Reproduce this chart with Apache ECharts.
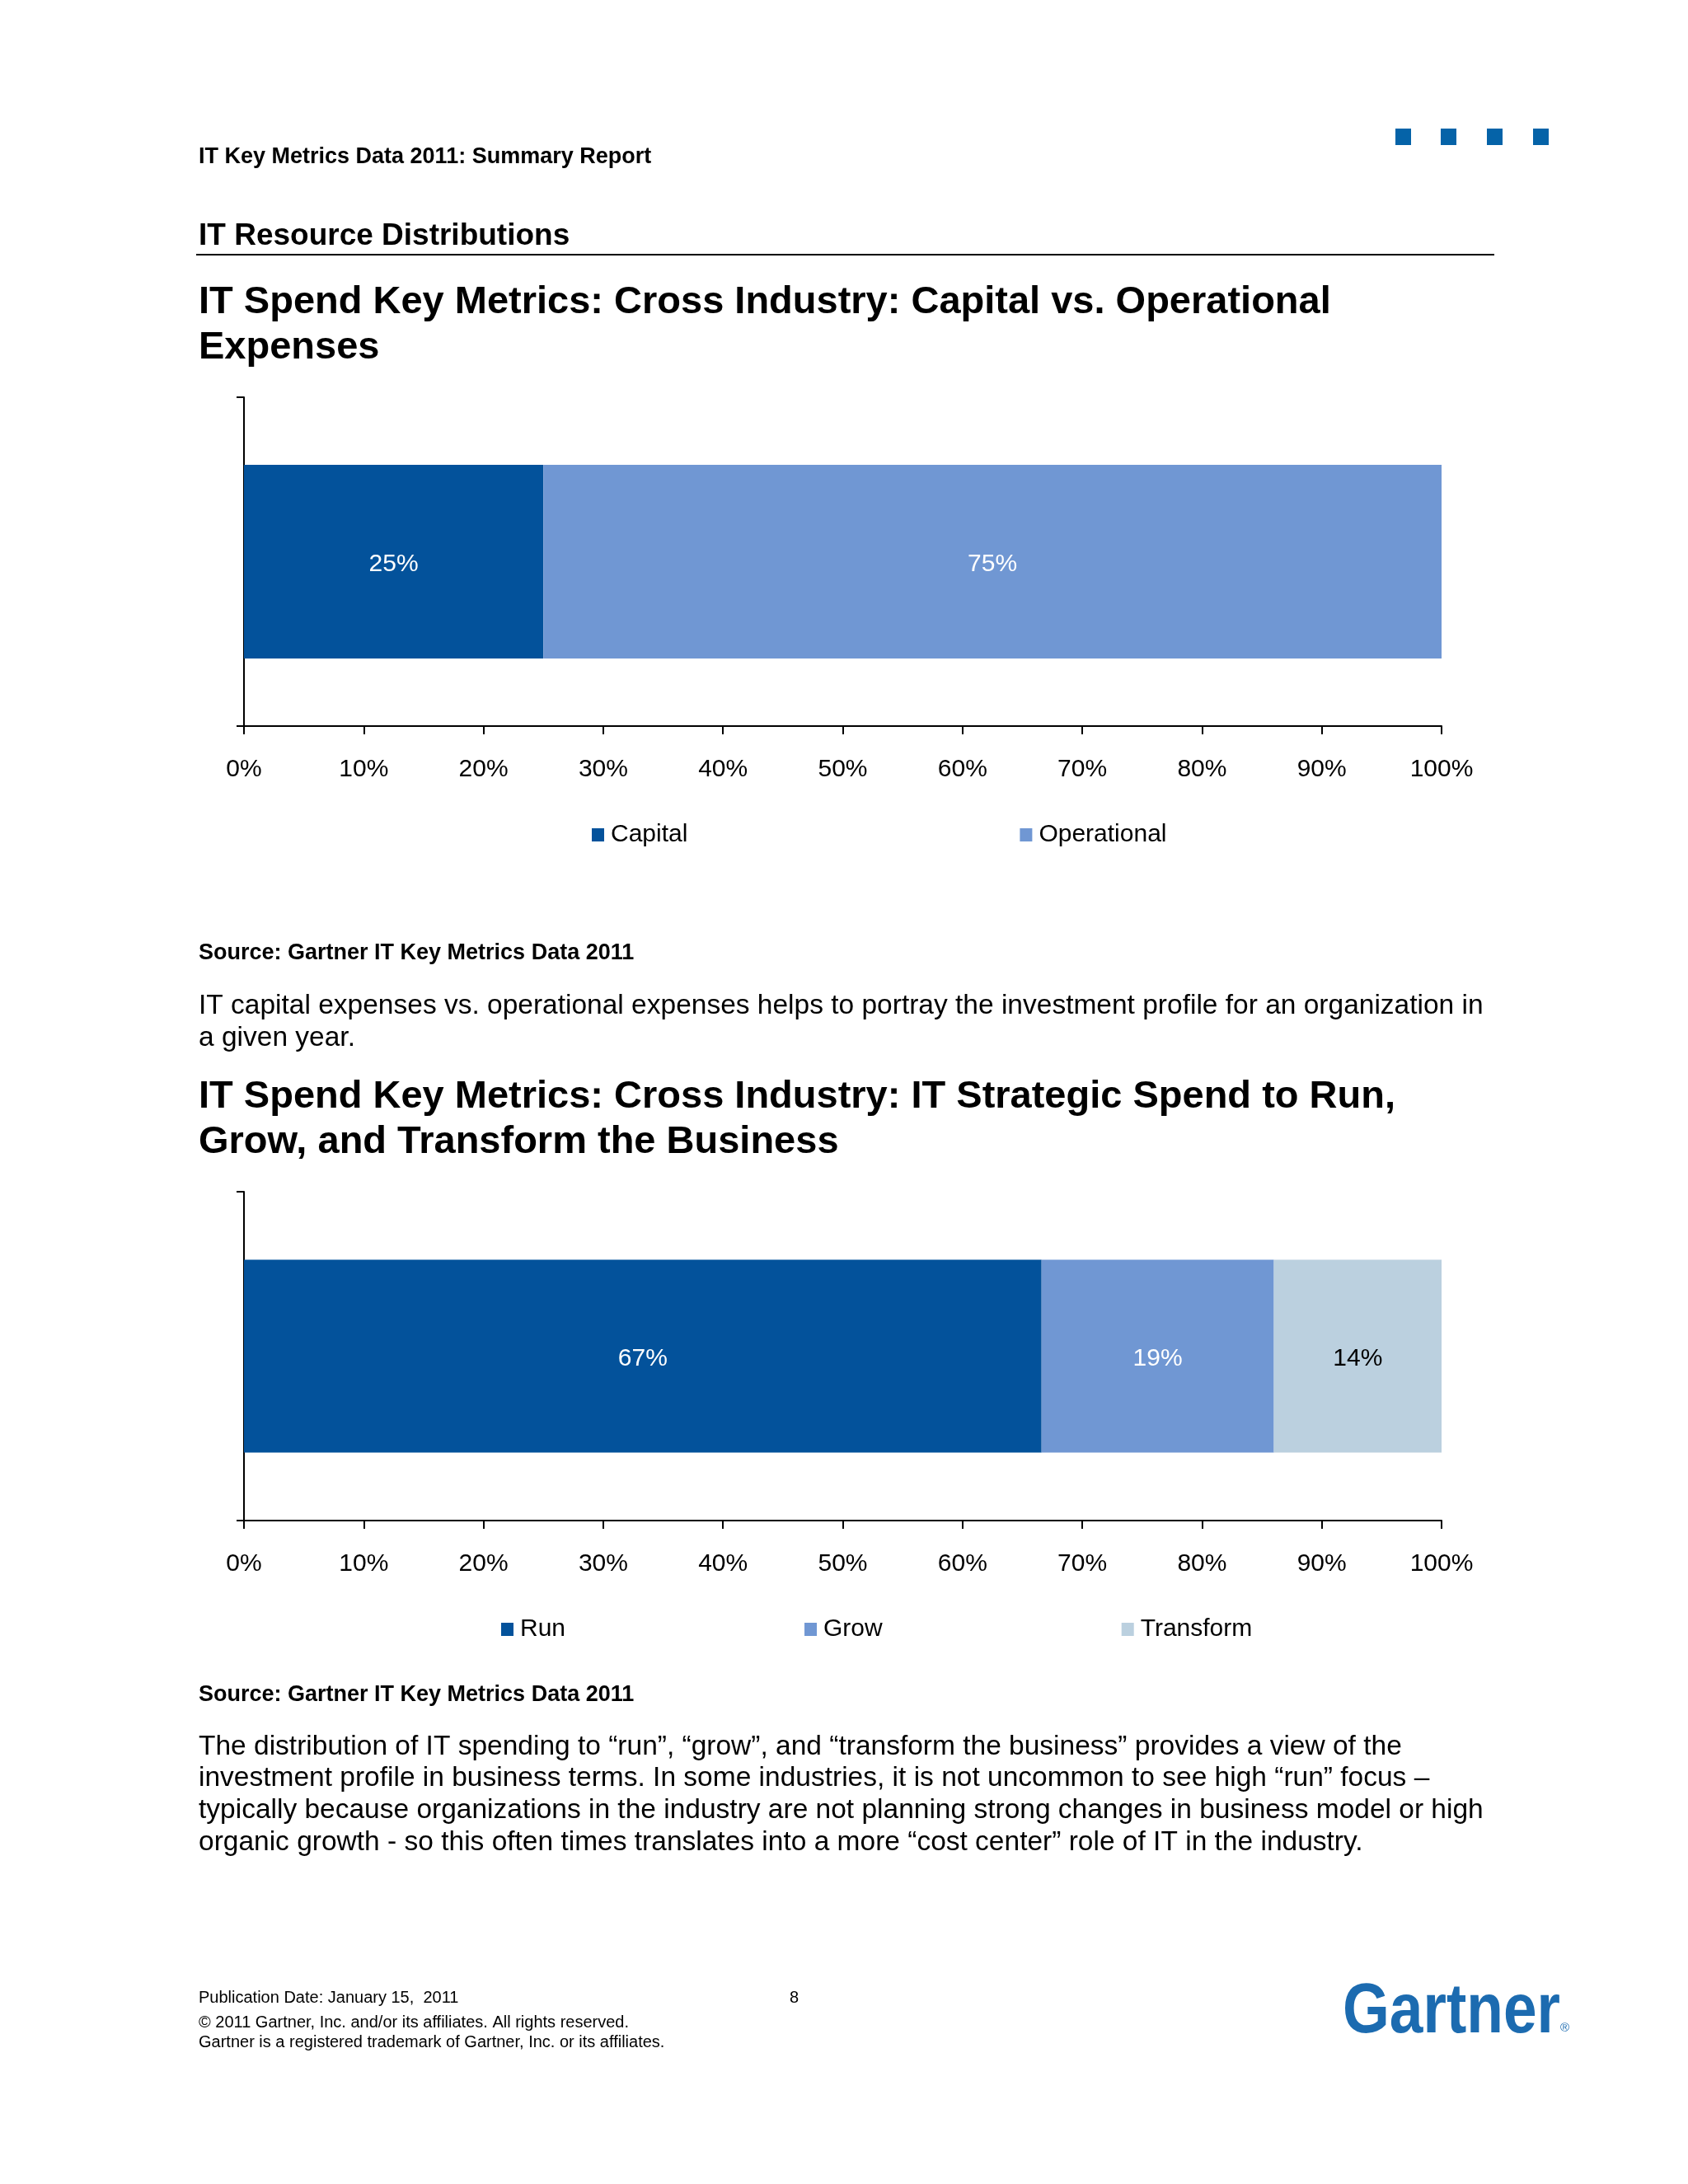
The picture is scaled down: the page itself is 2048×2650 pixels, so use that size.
<!DOCTYPE html>
<html>
<head>
<meta charset="utf-8">
<script src="https://cdn.jsdelivr.net/npm/echarts@6/dist/echarts.min.js"></script>
<style>
  html, body { margin: 0; padding: 0; background: #ffffff; }
  #page { width: 2048px; height: 2650px; }
</style>
</head>
<body>
<div id="page"></div>
<script>
// ---------- data ----------
const capCategory = ['Cross Industry'];
const capSeriesNames = ['Capital', 'Operational'];
const capValues = [25, 75];

const rgtCategory = ['Cross Industry'];
const rgtSeriesNames = ['Run', 'Grow', 'Transform'];
const rgtValues = [66.6, 19.4, 14.0];

const axisMin = 0;
const axisMax = 100;
const axisInterval = 10;

// ---------- styling ----------
const FONT = '"Liberation Sans", Arial, Helvetica, sans-serif';
const capColors = ['#03529B', '#7097D3'];
const rgtColors = ['#03529B', '#7097D3', '#BBD0DF'];
const rgtLabelColors = ['#ffffff', '#ffffff', '#000000'];
const capLabelColors = ['#ffffff', '#ffffff'];

function txt(x, y, text, size, weight, opts) {
  opts = opts || {};
  return {
    type: 'text',
    x: 0, y: 0,
    scaleX: opts.scaleX || 1,
    originX: x, originY: y,
    silent: true,
    style: {
      text: text,
      x: x, y: y,
      font: (weight || 'normal') + ' ' + size + 'px ' + FONT,
      fill: opts.fill || '#000000',
      align: opts.align || 'left',
      textAlign: opts.align || 'left',
      verticalAlign: opts.va || 'middle',
      textVerticalAlign: opts.va || 'middle',
      lineHeight: opts.lh || undefined
    }
  };
}

const graphics = [
  // header squares
  { type: 'rect', silent: true, shape: { x: 1693, y: 156, width: 19, height: 20 }, style: { fill: '#0563A8' } },
  { type: 'rect', silent: true, shape: { x: 1748, y: 156, width: 19, height: 20 }, style: { fill: '#0563A8' } },
  { type: 'rect', silent: true, shape: { x: 1804, y: 156, width: 19, height: 20 }, style: { fill: '#0563A8' } },
  { type: 'rect', silent: true, shape: { x: 1860, y: 156, width: 19, height: 20 }, style: { fill: '#0563A8' } },
  txt(241, 191, 'IT Key Metrics Data 2011: Summary Report', 27, 'bold'),
  txt(241, 287, 'IT Resource Distributions', 37, 'bold'),
  { type: 'line', silent: true, shape: { x1: 238, y1: 309, x2: 1813, y2: 309 }, style: { stroke: '#000000', lineWidth: 2 } },
  txt(241, 340, 'IT Spend Key Metrics: Cross Industry: Capital vs. Operational\nExpenses', 47, 'bold', { va: 'top', lh: 55 }),
  txt(241, 1157, 'Source: Gartner IT Key Metrics Data 2011', 27, 'bold'),
  txt(241, 1201, 'IT capital expenses vs. operational expenses helps to portray the investment profile for an organization in\na given year.', 33.5, 'normal', { va: 'top', lh: 39 }),
  txt(241, 1304, 'IT Spend Key Metrics: Cross Industry: IT Strategic Spend to Run,\nGrow, and Transform the Business', 47, 'bold', { va: 'top', lh: 55 }),
  txt(241, 2057, 'Source: Gartner IT Key Metrics Data 2011', 27, 'bold'),
  txt(241, 2100, 'The distribution of IT spending to \u201crun\u201d, \u201cgrow\u201d, and \u201ctransform the business\u201d provides a view of the\ninvestment profile in business terms. In some industries, it is not uncommon to see high \u201crun\u201d focus \u2013\ntypically because organizations in the industry are not planning strong changes in business model or high\norganic growth - so this often times translates into a more \u201ccost center\u201d role of IT in the industry.', 33.5, 'normal', { va: 'top', lh: 38.7 }),
  txt(241, 2424, 'Publication Date: January 15,  2011', 20, 'normal'),
  txt(958, 2424, '8', 20, 'normal'),
  txt(241, 2454, '\u00a9 2011 Gartner, Inc. and/or its affiliates. All rights reserved.', 20, 'normal'),
  txt(241, 2478, 'Gartner is a registered trademark of Gartner, Inc. or its affiliates.', 20, 'normal'),
  txt(1629, 2485, 'Gartner', 86, 'bold', { va: 'bottom', fill: '#1C6BB0', scaleX: 0.85 }),
  txt(1893, 2461, '\u00ae', 15, 'normal', { fill: '#1C6BB0' })
];

function xAxisCfg(gridIndex) {
  return {
    type: 'value', gridIndex: gridIndex,
    min: axisMin, max: axisMax, interval: axisInterval,
    axisLine: { show: true, lineStyle: { color: '#000000', width: 2 } },
    axisTick: { show: true, length: 10, lineStyle: { color: '#000000', width: 2 } },
    splitLine: { show: false },
    axisLabel: { formatter: '{value}%', margin: 38, color: '#000000', fontSize: 30, fontFamily: FONT }
  };
}
function yAxisCfg(gridIndex, cats) {
  return {
    type: 'category', gridIndex: gridIndex, data: cats,
    axisLine: { show: true, lineStyle: { color: '#000000', width: 2 } },
    axisTick: { show: true, length: 9, lineStyle: { color: '#000000', width: 2 } },
    axisLabel: { show: false },
    splitLine: { show: false }
  };
}

const series = [];
capSeriesNames.forEach(function (name, i) {
  series.push({
    name: name, type: 'bar', stack: 'cap', xAxisIndex: 0, yAxisIndex: 0,
    barWidth: 235,
    data: [capValues[i]],
    itemStyle: { color: capColors[i] },
    label: { show: true, position: 'inside', offset: [0, 3], color: capLabelColors[i], fontSize: 30, fontFamily: FONT,
      formatter: function (p) { return Math.round(p.value) + '%'; } },
    emphasis: { disabled: true },
    animation: false
  });
});
rgtSeriesNames.forEach(function (name, i) {
  series.push({
    name: name, type: 'bar', stack: 'rgt', xAxisIndex: 1, yAxisIndex: 1,
    barWidth: 234,
    data: [rgtValues[i]],
    itemStyle: { color: rgtColors[i] },
    label: { show: true, position: 'inside', offset: [0, 3], color: rgtLabelColors[i], fontSize: 30, fontFamily: FONT,
      formatter: function (p) { return Math.round(p.value) + '%'; } },
    emphasis: { disabled: true },
    animation: false
  });
});

const legendText = { color: '#000000', fontSize: 30, fontFamily: FONT, lineHeight: 30, padding: [0, 0, 0, 3] };

const option = {
  backgroundColor: '#ffffff',
  animation: false,
  textStyle: { fontFamily: FONT },
  grid: [
    { left: 296, top: 482, width: 1453, height: 399, containLabel: false },
    { left: 296, top: 1446, width: 1453, height: 399, containLabel: false }
  ],
  xAxis: [xAxisCfg(0), xAxisCfg(1)],
  yAxis: [yAxisCfg(0, capCategory), yAxisCfg(1, rgtCategory)],
  legend: [
    { data: capSeriesNames, left: 718, top: 998, padding: 0, itemGap: 403, itemWidth: 15, itemHeight: 16,
      icon: 'rect', selectedMode: false, textStyle: legendText },
    { data: rgtSeriesNames, left: 608, top: 1962, padding: 0, itemGap: 290, itemWidth: 15, itemHeight: 16,
      icon: 'rect', selectedMode: false, textStyle: legendText }
  ],
  graphic: graphics,
  series: series
};

const chart = echarts.init(document.getElementById('page'), null, { renderer: 'canvas', width: 2048, height: 2650 });
chart.setOption(option);
</script>
</body>
</html>
